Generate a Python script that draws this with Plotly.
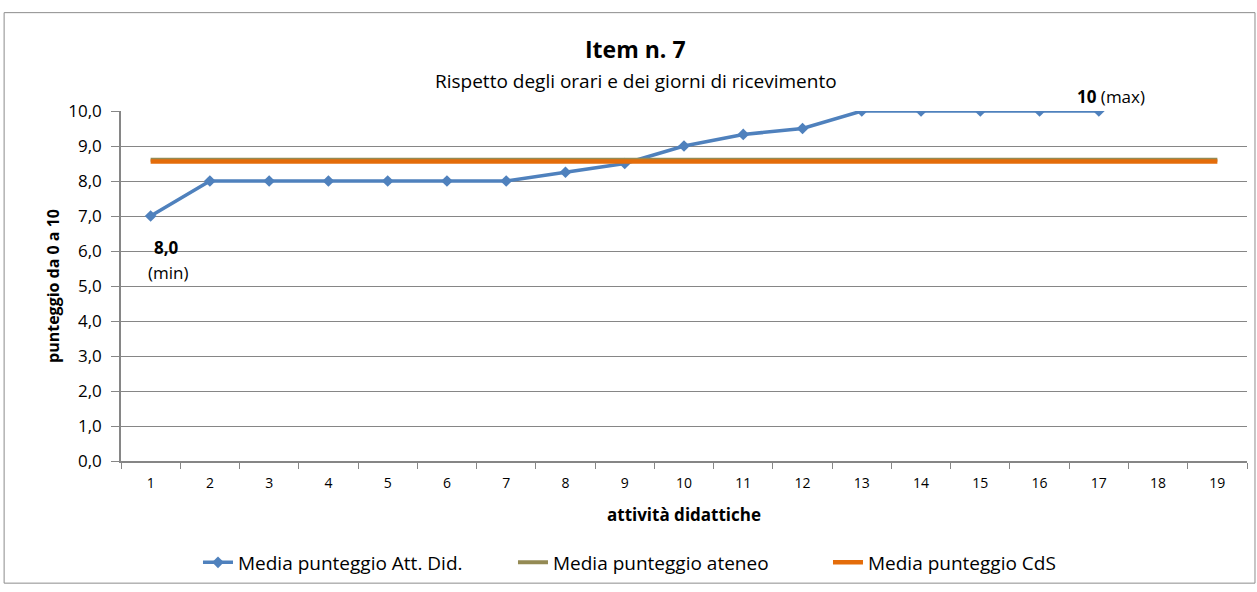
import plotly.graph_objects as go

categories = [str(i) for i in range(1, 20)]
att_did_x = [str(i) for i in range(1, 18)]
att_did = [7.0, 8.0, 8.0, 8.0, 8.0, 8.0, 8.0, 8.25, 8.5, 9.0, 9.33, 9.5, 10.0, 10.0, 10.0, 10.0, 10.0]
ateneo = [8.61, 8.61, 8.61, 8.61, 8.61, 8.61, 8.61, 8.61, 8.61, 8.61,
          8.61, 8.61, 8.61, 8.61, 8.61, 8.61, 8.61, 8.61, 8.61]
cds = [8.56, 8.56, 8.56, 8.56, 8.56, 8.56, 8.56, 8.56, 8.56, 8.56,
       8.56, 8.56, 8.56, 8.56, 8.56, 8.56, 8.56, 8.56, 8.56]
y_ticks = [0, 1, 2, 3, 4, 5, 6, 7, 8, 9, 10]

FONT = "Open Sans"
GRID = "#868686"

fig = go.Figure()
fig.add_trace(go.Scatter(
    x=att_did_x, y=att_did, name="Media punteggio Att. Did.",
    mode="lines+markers",
    line=dict(color="#4F81BD", width=3.5),
    marker=dict(symbol="diamond", size=9, color="#4F81BD"),
))
fig.add_trace(go.Scatter(
    x=categories, y=ateneo, name="Media punteggio ateneo",
    mode="lines", line=dict(color="#948A54", width=4),
))
fig.add_trace(go.Scatter(
    x=categories, y=cds, name="Media punteggio CdS",
    mode="lines", line=dict(color="#E46C0A", width=4.5),
))

annotations = [
    dict(text="<b>Item n. 7</b>", xref="paper", yref="paper", x=0.457, y=1.176,
         yanchor="middle", showarrow=False, font=dict(size=23, color="black", family=FONT)),
    dict(text="Rispetto degli orari e dei giorni di ricevimento", xref="paper", yref="paper",
         x=0.457, y=1.085, yanchor="middle", showarrow=False,
         font=dict(size=19, color="black", family=FONT)),
    dict(text="<b>8,0</b>", xref="x", yref="y", x=0.27, y=6.11, showarrow=False,
         font=dict(size=17, color="black", family=FONT)),
    dict(text="(min)", xref="x", yref="y", x=0.30, y=5.40, showarrow=False,
         font=dict(size=17, color="black", family=FONT)),
    dict(text="<b>10</b> (max)", xref="x", yref="paper", x=16.21, y=1.04, yanchor="middle",
         showarrow=False, font=dict(size=17, color="black", family=FONT)),
]

shapes = [dict(type="rect", xref="paper", yref="paper",
               x0=-0.1038, x1=1.0071, y0=-0.349, y1=1.281,
               line=dict(color="#8C8C8C", width=1), fillcolor="rgba(0,0,0,0)", layer="below")]

fig.update_layout(
    width=1257, height=592,
    margin=dict(l=121, r=10, t=111, b=129),
    paper_bgcolor="white", plot_bgcolor="white",
    font=dict(family=FONT, color="black"),
    separators=",.",
    showlegend=True,
    legend=dict(orientation="h", x=0.488, xanchor="center", y=-0.29, yanchor="middle",
                font=dict(size=19, family=FONT), entrywidth=270, entrywidthmode="pixels",
                tracegroupgap=0),
    annotations=annotations,
    shapes=shapes,
    xaxis=dict(
        type="category", categoryorder="array", categoryarray=categories,
        range=[-0.5, 18.5], tickson="boundaries", ticks="outside", ticklen=6,
        tickcolor=GRID, showline=True, linecolor=GRID, linewidth=1.5, showgrid=False,
        tickfont=dict(size=14), zeroline=False, ticklabelstandoff=8,
        title=dict(text="<b>attività didattiche</b>", font=dict(size=17), standoff=19),
    ),
    yaxis=dict(
        range=[0, 10], tickvals=y_ticks, tickformat=".1f", ticks="outside", ticklen=8,
        tickcolor=GRID, showline=True, linecolor=GRID, linewidth=1.5,
        showgrid=True, gridcolor=GRID, gridwidth=1, zeroline=False,
        tickfont=dict(size=17), ticklabelstandoff=6,
        title=dict(text="<b>punteggio da 0 a 10</b>", font=dict(size=16), standoff=5),
    ),
)

fig.write_html("out.html", config={"displayModeBar": False},
               post_script="document.body.style.margin='0px';")
